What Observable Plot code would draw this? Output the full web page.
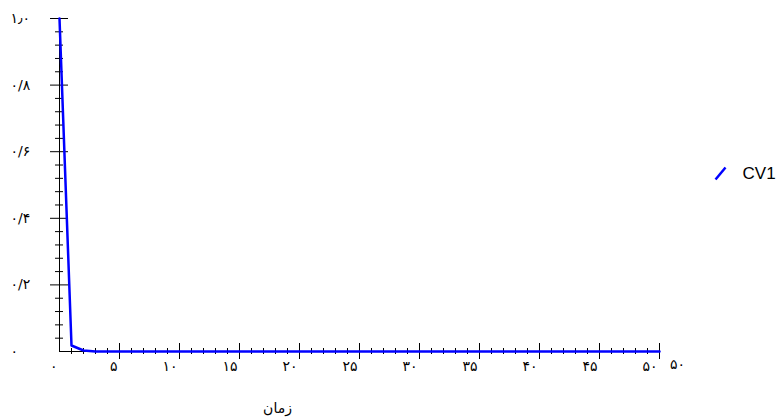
<!DOCTYPE html>
<html>
<head>
<meta charset="utf-8">
<script src="https://cdn.jsdelivr.net/npm/d3@7"></script>
<script src="https://cdn.jsdelivr.net/npm/@observablehq/plot@0.6"></script>
<style>
  html, body { margin: 0; padding: 0; background: #fff; }
  #chart svg { display: block; }
</style>
</head>
<body>
<div id="chart"></div>
<script>
// Series data (time, CV1)
const times = d3.range(0, 51);
const cv1Values = [1.0, 0.018, 0.003].concat(Array(48).fill(0));

// Ticks and labels
const xMajorTicks = [0, 5, 10, 15, 20, 25, 30, 35, 40, 45, 50];
const xMajorLabels = ["۰", "۵", "۱۰", "۱۵", "۲۰", "۲۵", "۳۰", "۳۵", "۴۰", "۴۵", "۵۰"];
const xMinorTicks = d3.range(1, 50).filter(d => d % 5 !== 0);
const yMajorTicks = [0, 0.2, 0.4, 0.6, 0.8, 1.0];
const yMajorLabels = ["۰", "۰/۲", "۰/۴", "۰/۶", "۰/۸", "۱٫۰"];
const yMinorTicks = d3.range(1, 25).filter(d => d % 5 !== 0).map(d => d * 0.04);
const xTitle = "زمان";
const xEndLabel = "۵۰";
const seriesName = "CV1";

const data = times.map((t, i) => ({t, v: cv1Values[i]}));

const W = 778, H = 420;
const mL = 59, mR = 119, mT = 18, mB = 69;
const digitFont = "DejaVu Sans, sans-serif";

const chart = Plot.plot({
  width: W,
  height: H,
  marginLeft: mL,
  marginRight: mR,
  marginTop: mT,
  marginBottom: mB,
  x: {domain: [0, 50], axis: null},
  y: {domain: [0, 1], axis: null},
  style: {fontFamily: digitFont, background: "#fff", overflow: "visible"},
  marks: [
    // axis lines
    Plot.ruleY([0], {x1: 0, x2: 50, stroke: "#000", strokeWidth: 1}),
    Plot.ruleX([0], {y1: 0, y2: 1, stroke: "#000", strokeWidth: 1}),
    // x ticks
    Plot.ruleX(xMajorTicks.slice(1), {x: d => d, y1: 0, y2: 0, insetTop: -8, insetBottom: -8, stroke: "#000"}),
    Plot.ruleX(xMinorTicks, {x: d => d, y1: 0, y2: 0, insetTop: -3, insetBottom: -3, stroke: "#000"}),
    // y ticks
    Plot.ruleY(yMajorTicks.slice(1), {y: d => d, x1: 0, x2: 0, insetLeft: -9, insetRight: -9, stroke: "#000"}),
    Plot.ruleY(yMinorTicks, {y: d => d, x1: 0, x2: 0, insetLeft: -4, insetRight: -4, stroke: "#000"}),
    // line
    Plot.line(data, {x: "t", y: "v", stroke: "#0000ff", strokeWidth: 2.5}),
    // x labels
    Plot.text(xMajorTicks, {x: d => d, text: (d, i) => xMajorLabels[i], frameAnchor: "bottom", dy: 19, dx: -2, textAnchor: "end", fontSize: 14, fill: "#000"}),
    Plot.text([xEndLabel], {text: d => d, frameAnchor: "bottom-right", dx: 18, dy: 17, textAnchor: "middle", fontSize: 14, fill: "#000"}),
    // y labels
    Plot.text(yMajorTicks, {y: d => d, text: (d, i) => yMajorLabels[i], frameAnchor: "left", dx: -49, textAnchor: "start", fontSize: 14, fill: "#000"}),
    // x title
    Plot.text([xTitle], {text: d => d, frameAnchor: "bottom", dx: -82, dy: 61, textAnchor: "middle", fontSize: 14, fill: "#000"}),
    // legend
    Plot.link([seriesName], {x1: 54.67, y1: 0.5165, x2: 55.5, y2: 0.5526, stroke: "#0000ff", strokeWidth: 2.5}),
    Plot.text([seriesName], {x: 56.92, y: 0.5345, text: d => d, textAnchor: "start", fontSize: 17, fontFamily: "Liberation Sans, Arial, sans-serif", fill: "#000"})
  ]
});
document.getElementById("chart").appendChild(chart);
</script>
</body>
</html>
